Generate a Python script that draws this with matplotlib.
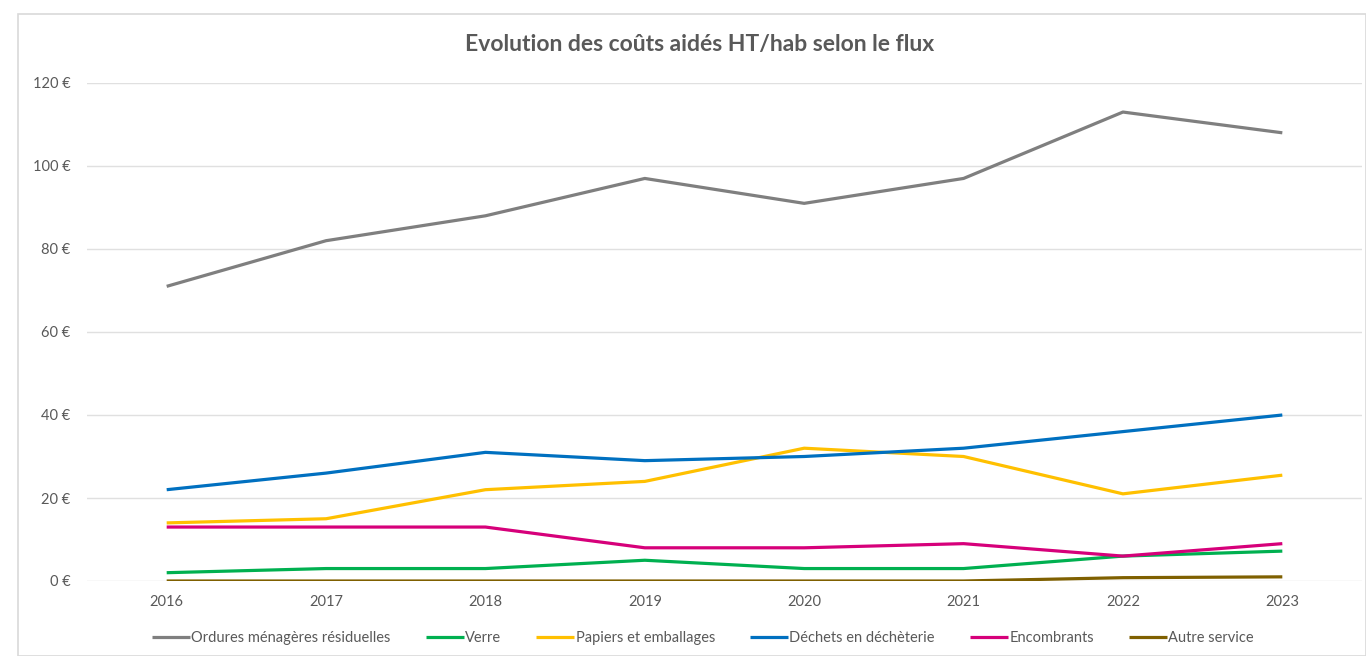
import matplotlib.pyplot as plt
from matplotlib.patches import Rectangle

# Data
years = ["2016", "2017", "2018", "2019", "2020", "2021", "2022", "2023"]
ordures = [71, 82, 88, 97, 91, 97, 113, 108]
verre = [2, 3, 3, 5, 3, 3, 6, 7.2]
papiers = [14, 15, 22, 24, 32, 30, 21, 25.5]
decheterie = [22, 26, 31, 29, 30, 32, 36, 40]
encombrants = [13, 13, 13, 8, 8, 9, 6, 9]
autre = [0, 0, 0, 0, 0, 0, 0.8, 1]
y_ticks = [0, 20, 40, 60, 80, 100, 120]

series = [
    ("Ordures ménagères résiduelles", ordures, "#7f7f7f"),
    ("Verre", verre, "#00b050"),
    ("Papiers et emballages", papiers, "#ffc000"),
    ("Déchets en déchèterie", decheterie, "#0070c0"),
    ("Encombrants", encombrants, "#d6007a"),
    ("Autre service", autre, "#7f6000"),
]

plt.rcParams["font.family"] = ["Lato", "DejaVu Sans"]
text_color = "#595959"

fig = plt.figure(figsize=(13.66, 6.56), dpi=100)
# light frame around the chart
fig.patches.append(
    Rectangle((18 / 1366, 0), 1 - 18 / 1366, 1 - 14 / 656,
              transform=fig.transFigure, fill=False, edgecolor="#d9d9d9", lw=1.2)
)

ax = fig.add_axes([87 / 1366, 1 - 581 / 656, (1362 - 87) / 1366, (581 - 83) / 656])
x = list(range(len(years)))
for name, values, color in series:
    ax.plot(x, values, color=color, lw=2.3, label=name, solid_capstyle="butt")

ax.set_xlim(-0.5, len(years) - 0.5)
ax.set_ylim(0, 120)
ax.set_xticks(x)
ax.set_xticklabels(years)
ax.set_yticks(y_ticks)
ax.set_yticklabels([f"{v} €" for v in y_ticks])
ax.grid(axis="y", color="#e0e0e0", lw=1)
ax.set_axisbelow(True)
for s in ax.spines.values():
    s.set_visible(False)
ax.tick_params(length=0, colors=text_color, labelsize=10.5)
ax.tick_params(axis="x", pad=10)
ax.tick_params(axis="y", pad=12)

fig.text(700 / 1366, 1 - 45 / 656, "Evolution des coûts aidés HT/hab selon le flux",
         ha="center", va="center", fontsize=16.5, fontweight="bold", color=text_color)

fig.legend(loc="center", bbox_to_anchor=(703 / 1366, 1 - 638 / 656), ncol=6,
           frameon=False, fontsize=10.5, handlelength=2.6, handletextpad=0.1,
           columnspacing=2.4, labelcolor=text_color)

fig.savefig("out.png", dpi=100)
